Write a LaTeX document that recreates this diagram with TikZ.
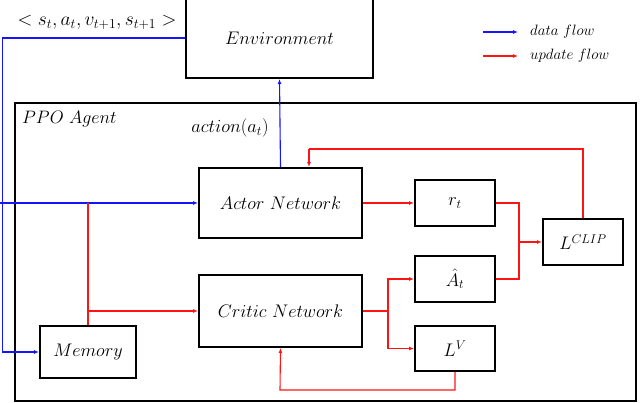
\RequirePackage{fix-cm}
\documentclass[tikz,border=0pt]{standalone}
\usetikzlibrary{arrows.meta,calc}
\definecolor{ured}{RGB}{255,20,20}
\definecolor{dblue}{RGB}{20,20,255}
\begin{document}
\begin{tikzpicture}[x=1pt,y=-1pt,
  box/.style={draw=black,line width=2pt,fill=white,inner sep=0pt,font=\fontsize{18.2}{21}\selectfont},
  lbl/.style={font=\fontsize{18}{21}\selectfont,inner sep=0pt},
  small/.style={font=\fontsize{15}{17}\selectfont,inner sep=0pt},
  dflow/.style={draw=dblue,line width=1.1pt},
  uflow/.style={draw=ured,line width=1.1pt},
  tip/.style={-{Latex[length=5pt,width=4pt]}}]
\useasboundingbox (0,0) rectangle (640,402);
% agent box
\node[draw=black,line width=1.6pt,minimum width=621pt,minimum height=298pt,inner sep=0pt,anchor=north west] (agent) at (14,102) {};
\node[lbl,anchor=west] (ppo) at (22,119) {$PPO\ Agent$};
% environment
\node[box,minimum width=187pt,minimum height=80pt] (env) at (279.5,38) {$Environment$};
% boxes
\node[box,minimum width=163pt,minimum height=70pt] (actor) at (280.5,203) {$Actor\ Network$};
\node[box,minimum width=163pt,minimum height=72pt] (critic) at (280.5,311) {$Critic\ Network$};
\node[box,minimum width=96pt,minimum height=52pt] (mem) at (88,352) {$Memory$};
\node[box,minimum width=80pt,minimum height=46pt] (rt) at (455,203) {$r_t$};
\node[box,minimum width=80pt,minimum height=46pt] (adv) at (455,279) {$\hat{A}_t$};
\node[box,minimum width=80pt,minimum height=45pt] (lv) at (455,348.5) {$L^{V}$};
\node[box,minimum width=80pt,minimum height=46pt] (lclip) at (583,242) {$L^{CLIP}$};
% labels
\node[lbl,font=\fontsize{19.5}{22}\selectfont] (tuple) at (97,22) {$<s_t,a_t,v_{t+1},s_{t+1}>$};
\node[lbl,font=\fontsize{18.5}{21}\selectfont] (act) at (230,128) {$action(a_t)$};
% data flow
\coordinate (lft) at (2.5,38);
\draw[dflow,tip] (env.west) -- (lft) |- (mem.west);
\coordinate (inp) at (0,203);
\draw[dflow,tip] (inp) -- (actor.west);
\draw[dflow,tip] (actor.north) -- (env.south);
% update flow
\draw[uflow] (mem.north) -- (mem.north |- actor.west);
\draw[uflow,tip] (mem.north |- critic.west) -- (critic.west);
\draw[uflow,tip] (actor.east) -- (rt.west);
\coordinate (cs) at (388,311);
\draw[uflow] (critic.east) -- (cs);
\draw[uflow,tip] (cs) |- (adv.west);
\draw[uflow,tip] (cs) |- (lv.west);
\coordinate (js) at (519,242);
\coordinate (jt) at (519,203);
\coordinate (ja) at (519,279);
\draw[uflow] (rt.east) -- (jt) -- (ja) -- (adv.east);
\draw[uflow,tip] (js) -- (lclip.west);
\coordinate (tp) at (309,149);
\coordinate (tq) at (583,149);
\draw[uflow] (lclip.north) -- (tq) -- (tp);
\draw[uflow,tip] (tp) -- (tp |- actor.north);
\coordinate (bt) at (280,390);
\draw[uflow,tip] (lv.south) |- (bt) -- (critic.south);
% legend
\coordinate (l1a) at (483,32); \coordinate (l1b) at (518,32);
\coordinate (l2a) at (483,56); \coordinate (l2b) at (518,56);
\draw[dflow,tip] (l1a) -- (l1b);
\draw[uflow,tip] (l2a) -- (l2b);
\node[small,anchor=west] (dfl) at (530,32) {$data\ flow$};
\node[small,anchor=west] (ufl) at (530,56) {$update\ flow$};
\end{tikzpicture}
\end{document}
